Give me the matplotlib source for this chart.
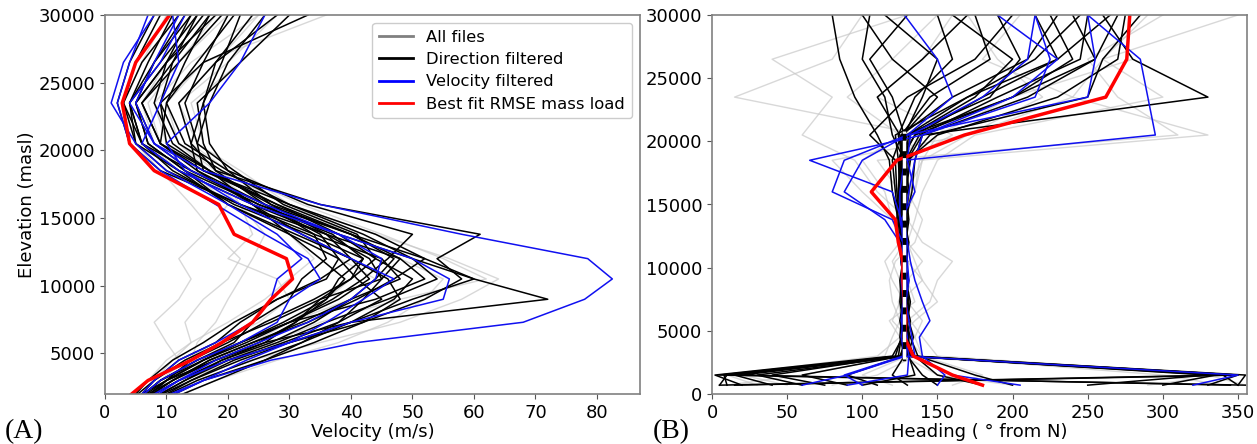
import matplotlib
matplotlib.use("Agg")
import matplotlib.pyplot as plt
from matplotlib.lines import Line2D

# Altitude levels (m) shared by all profiles
heights = [700, 1500, 3000, 4500, 5800, 7300, 9000, 10500, 12000, 13800,
           16000, 18500, 20500, 23500, 26500, 30000]

# ---- Velocity profiles (m/s) ----
vel_all = [
    [3, 6, 10, 14, 15, 18, 20, 22, 24, 26, 22, 15, 10, 8, 14, 25],
    [4, 8, 14, 20, 27, 35, 48, 62, 55, 45, 32, 20, 14, 12, 18, 25],
    [2, 5, 8, 12, 10, 8, 12, 14, 12, 16, 20, 14, 8, 6, 10, 16],
    [5, 9, 15, 24, 35, 48, 58, 64, 56, 44, 30, 18, 12, 10, 16, 36],
    [3, 6, 9, 13, 18, 25, 30, 28, 20, 24, 22, 18, 16, 14, 22, 30],
    [4, 7, 12, 16, 22, 30, 40, 44, 38, 30, 20, 12, 7, 5, 8, 12],
    [2, 4, 7, 10, 14, 20, 26, 30, 34, 30, 25, 17, 12, 9, 12, 18],
    [6, 10, 18, 28, 38, 46, 52, 55, 48, 40, 30, 22, 15, 12, 20, 28],
    [3, 5, 8, 11, 14, 13, 16, 20, 22, 18, 14, 9, 5, 3, 6, 10],
    [4, 6, 11, 17, 24, 30, 36, 40, 44, 38, 28, 16, 9, 7, 12, 20],
]
vel_dir = [
    [2, 4, 10, 18, 26, 40, 72, 60, 50, 38, 25, 14, 8, 5, 10, 18],
    [3, 6, 12, 20, 30, 42, 52, 58, 54, 61, 35, 18, 14, 16, 18, 24],
    [4, 7, 14, 22, 30, 40, 50, 60, 52, 40, 26, 15, 9, 6, 11, 17],
    [3, 5, 9, 16, 22, 30, 44, 52, 48, 36, 24, 12, 6, 4, 8, 14],
    [2, 5, 11, 17, 24, 32, 40, 48, 45, 34, 22, 10, 5, 3, 6, 12],
    [4, 8, 15, 24, 32, 40, 47, 50, 44, 38, 28, 16, 15, 17, 20, 26],
    [3, 6, 10, 14, 20, 26, 34, 40, 42, 33, 21, 11, 6, 4, 9, 15],
    [5, 9, 16, 26, 34, 42, 48, 46, 40, 32, 24, 15, 14, 12, 18, 28],
    [2, 4, 8, 12, 18, 22, 28, 36, 38, 30, 20, 13, 7, 5, 8, 13],
    [3, 6, 12, 19, 27, 34, 40, 44, 47, 40, 27, 17, 9, 6, 12, 19],
    [4, 7, 13, 20, 28, 36, 46, 54, 50, 42, 30, 16, 9, 10, 15, 21],
    [3, 5, 9, 15, 21, 24, 30, 32, 36, 34, 26, 14, 6, 3, 5, 9],
    [2, 4, 7, 11, 16, 21, 28, 35, 40, 36, 22, 9, 4, 2, 4, 8],
    [5, 8, 14, 21, 29, 38, 45, 41, 38, 35, 26, 18, 16, 15, 22, 30],
    [3, 6, 11, 18, 25, 31, 36, 38, 42, 37, 25, 13, 7, 5, 10, 16],
    [4, 6, 10, 16, 23, 30, 38, 43, 40, 31, 20, 12, 5, 4, 7, 11],
    [3, 5, 8, 13, 19, 27, 35, 45, 48, 40, 28, 17, 10, 9, 16, 33],
    [6, 10, 18, 26, 32, 38, 42, 45, 43, 36, 27, 20, 17, 16, 19, 22],
    [3, 6, 11, 17, 24, 33, 41, 47, 52, 44, 30, 19, 12, 9, 11, 15],
    [2, 5, 9, 15, 22, 30, 37, 42, 46, 50, 33, 20, 13, 10, 13, 17],
    [4, 7, 13, 19, 26, 31, 35, 40, 44, 41, 29, 21, 15, 13, 16, 20],
    [3, 5, 10, 16, 22, 29, 36, 39, 35, 30, 24, 17, 11, 8, 10, 14],
]
vel_vel = [
    [4, 8, 16, 27, 41, 68, 78, 82.5, 78.5, 58, 35, 16, 8, 5, 8, 12],
    [3, 6, 12, 20, 30, 40, 55, 56, 50, 38, 24, 12, 6, 9, 12, 11],
    [2, 5, 9, 15, 22, 28, 30, 35, 33, 26, 18, 9, 4, 2, 4, 7],
    [5, 9, 16, 23, 30, 36, 42, 47, 40, 32, 22, 13, 10, 17, 22, 26],
    [3, 5, 8, 12, 18, 24, 27, 28, 32, 28, 20, 10, 5, 1, 3, 8],
    [4, 7, 12, 18, 25, 33, 40, 44, 45, 38, 26, 14, 8, 4, 9, 13],
]
vel_best = [2, 3, 7, 14, 19, 24, 27, 30.5, 29.5, 21, 18.5, 8, 4, 2.8, 5, 10.5]

# ---- Heading profiles (degrees from N) ----
hdg_all = [
    [10, 60, 125, 135, 140, 130, 125, 120, 128, 130, 110, 95, 60, 80, 40, 130],
    [340, 300, 140, 130, 120, 125, 140, 135, 130, 125, 130, 140, 170, 240, 260, 290],
    [200, 150, 128, 132, 130, 145, 150, 160, 140, 130, 125, 110, 310, 270, 250, 300],
    [50, 20, 115, 120, 125, 120, 118, 122, 135, 140, 130, 125, 140, 15, 80, 100],
    [290, 340, 150, 140, 132, 128, 125, 127, 130, 135, 140, 150, 175, 300, 260, 350],
    [120, 100, 130, 125, 118, 135, 130, 128, 125, 120, 100, 80, 170, 220, 190, 170],
    [30, 10, 110, 125, 135, 150, 140, 130, 125, 128, 135, 140, 150, 200, 280, 260],
    [160, 180, 140, 135, 130, 128, 120, 115, 125, 130, 132, 128, 160, 110, 140, 160],
    [355, 330, 122, 128, 130, 132, 128, 126, 128, 120, 115, 100, 125, 90, 120, 150],
    [80, 110, 135, 130, 126, 124, 130, 140, 130, 128, 135, 138, 330, 240, 180, 205],
]
hdg_dir = [
    [350, 340, 132, 128, 126, 130, 128, 127, 125, 124, 122, 120, 126, 160, 210, 230],
    [5, 10, 125, 130, 132, 129, 127, 126, 128, 130, 126, 125, 135, 200, 255, 270],
    [180, 150, 135, 128, 127, 128, 130, 129, 127, 124, 120, 118, 110, 95, 85, 80],
    [20, 2, 120, 127, 128, 126, 125, 127, 130, 128, 125, 130, 150, 230, 270, 275],
    [300, 335, 130, 131, 129, 127, 128, 130, 129, 127, 130, 128, 120, 115, 100, 105],
    [60, 30, 128, 125, 126, 129, 131, 128, 126, 125, 123, 122, 105, 130, 175, 200],
    [110, 90, 127, 129, 130, 132, 129, 127, 126, 129, 133, 135, 140, 330, 280, 260],
    [350, 355, 133, 127, 125, 127, 126, 128, 129, 127, 126, 124, 130, 170, 215, 245],
    [150, 140, 130, 134, 131, 128, 127, 126, 124, 123, 124, 126, 128, 140, 150, 115],
    [40, 15, 122, 126, 128, 130, 129, 128, 127, 126, 125, 127, 125, 110, 140, 170],
    [90, 60, 126, 129, 127, 125, 126, 129, 131, 128, 127, 129, 132, 175, 200, 160],
    [250, 330, 131, 128, 129, 128, 127, 126, 128, 127, 129, 131, 145, 250, 260, 285],
    [10, 8, 129, 127, 126, 127, 128, 130, 128, 126, 124, 125, 127, 150, 120, 100],
    [130, 120, 128, 131, 130, 129, 126, 127, 129, 130, 128, 126, 135, 180, 230, 215],
    [330, 350, 134, 130, 128, 126, 127, 128, 126, 125, 127, 130, 140, 210, 255, 240],
    [75, 40, 124, 126, 127, 128, 130, 127, 125, 127, 129, 132, 128, 120, 105, 130],
    [200, 175, 137, 132, 129, 127, 128, 129, 130, 128, 126, 128, 126, 145, 185, 175],
    [355, 5, 127, 128, 130, 131, 129, 127, 127, 129, 131, 129, 138, 190, 245, 250],
    [15, 350, 129, 127, 128, 130, 127, 126, 128, 127, 125, 124, 122, 170, 230, 265],
    [345, 20, 126, 128, 127, 126, 129, 128, 126, 128, 127, 126, 129, 185, 205, 190],
    [100, 135, 131, 129, 128, 127, 126, 128, 129, 131, 129, 127, 124, 135, 160, 150],
    [5, 340, 128, 130, 129, 128, 127, 129, 127, 125, 126, 128, 131, 200, 240, 225],
]
hdg_vel = [
    [90, 130, 131, 129, 127, 128, 130, 128, 127, 126, 120, 65, 140, 215, 225, 215],
    [205, 160, 135, 133, 131, 129, 127, 126, 127, 120, 80, 88, 130, 250, 255, 250],
    [320, 350, 128, 126, 127, 128, 129, 130, 128, 125, 125, 128, 295, 290, 285, 250],
    [150, 155, 140, 138, 145, 140, 135, 132, 130, 128, 131, 135, 140, 200, 230, 190],
    [100, 88, 127, 128, 126, 127, 126, 127, 125, 115, 88, 100, 130, 160, 150, 128],
    [60, 90, 129, 130, 128, 129, 131, 130, 129, 126, 135, 130, 132, 180, 210, 215],
]
hdg_best = [180, 160, 134, 128, 129, 128, 127, 127, 124, 122, 106, 123, 168, 262, 276, 278]

# Mean direction band
mean_heading = 128
mean_band = [2800, 20800]

legend_labels = ["All files", "Direction filtered", "Velocity filtered",
                 "Best fit RMSE mass load"]

plt.rcParams['font.family'] = ['DejaVu Sans']
fig = plt.figure(figsize=(12.57, 4.44), dpi=100)
W, Hh = 1257, 444
axA = fig.add_axes([105 / W, 1 - 394 / Hh, (640 - 105) / W, (394 - 15) / Hh])
axB = fig.add_axes([712 / W, 1 - 394 / Hh, (1247 - 712) / W, (394 - 15) / Hh])

gray_kw = dict(color='#c8c8c8', lw=1.0, alpha=0.7)
black_kw = dict(color='black', lw=1.1)
blue_kw = dict(color='#1010f0', lw=1.1)
red_kw = dict(color='red', lw=2.5)

for prof in vel_all:
    axA.plot(prof, heights, **gray_kw)
for prof in vel_dir:
    axA.plot(prof, heights, **black_kw)
for prof in vel_vel:
    axA.plot(prof, heights, **blue_kw)
axA.plot(vel_best, heights, **red_kw)

for prof in hdg_all:
    axB.plot(prof, heights, **gray_kw)
for prof in hdg_dir:
    axB.plot(prof, heights, **black_kw)
for prof in hdg_vel:
    axB.plot(prof, heights, **blue_kw)
axB.plot(hdg_best, heights, **red_kw)
axB.plot([mean_heading, mean_heading], mean_band, color='black', lw=2.5)
axB.plot([mean_heading, mean_heading], mean_band, color='white', lw=2.5,
         linestyle=(0, (3, 2)))

axA.set_xlim(0, 87)
axA.set_ylim(2000, 30000)
axA.set_yticks([5000, 10000, 15000, 20000, 25000, 30000])
axB.set_xlim(0, 356)
axB.set_ylim(0, 30000)
axB.set_yticks([0, 5000, 10000, 15000, 20000, 25000, 30000])

for ax in (axA, axB):
    ax.tick_params(labelsize=13, color='#555555')
    for s in ax.spines.values():
        s.set_color('#808080')
        s.set_linewidth(1.2)

axA.set_xlabel("Velocity (m/s)", fontsize=13, labelpad=1)
axA.set_ylabel("Elevation (masl)", fontsize=13, labelpad=2)
axB.set_xlabel("Heading ( \u00b0 from N)", fontsize=13, labelpad=1)

handles = [Line2D([0], [0], color='gray', lw=2),
           Line2D([0], [0], color='black', lw=2),
           Line2D([0], [0], color='blue', lw=2),
           Line2D([0], [0], color='red', lw=2)]
axA.legend(handles, legend_labels, loc='upper right', fontsize=11.8,
           framealpha=1.0, borderaxespad=0.5, handlelength=2.1,
           labelspacing=0.45)

fig.text(5 / W, 1 - 438 / Hh, "(A)", fontsize=20, family='Liberation Serif')
fig.text(653 / W, 1 - 438 / Hh, "(B)", fontsize=20, family='Liberation Serif')

fig.savefig("out.png", dpi=100)
